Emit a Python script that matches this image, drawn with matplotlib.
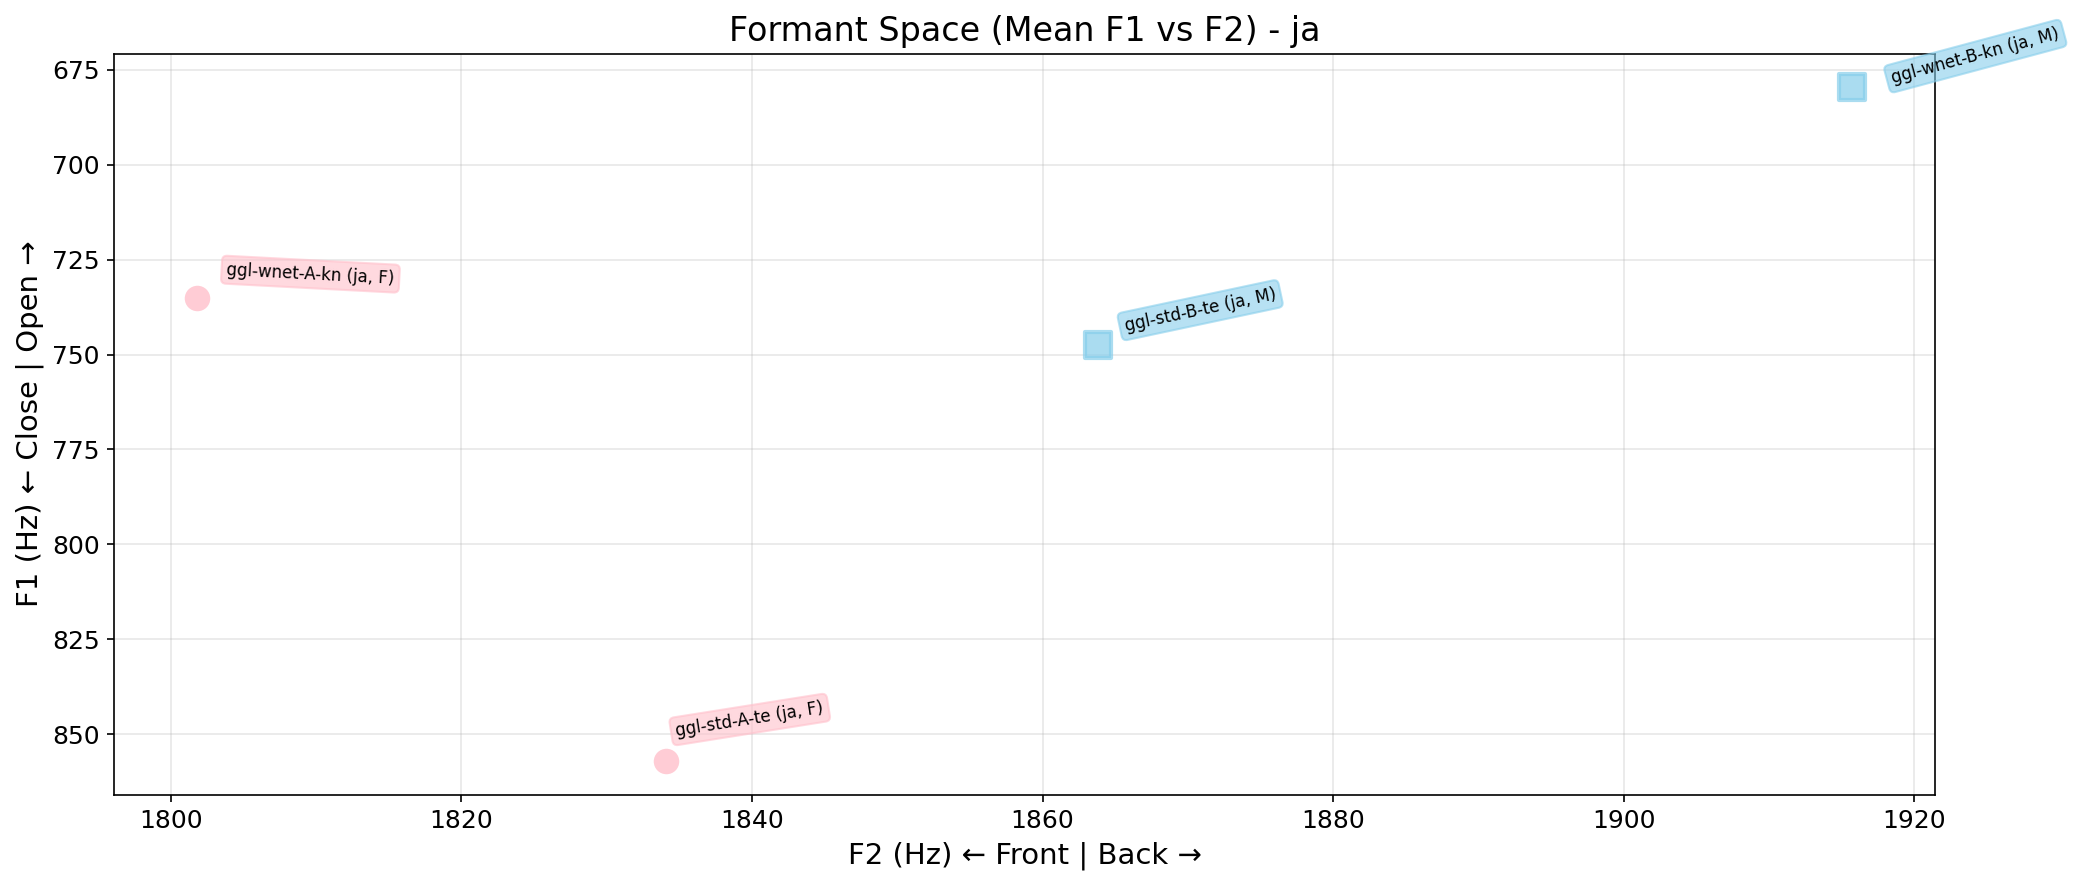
import matplotlib
matplotlib.use("Agg")
import matplotlib.pyplot as plt

labels = ["ggl-wnet-A-kn", "ggl-std-A-te", "ggl-std-B-te", "ggl-wnet-B-kn"]
langs = ["ja", "ja", "ja", "ja"]
genders = ["F", "F", "M", "M"]
f2_vals = [1801.8, 1834.1, 1863.8, 1915.7]
f1_vals = [735.1, 857.0, 747.6, 679.6]
rotations = [-3, 9, 12, 15]
offsets = [(14, 5), (4, 10), (12, 5), (18, 0)]

colors = {"F": "pink", "M": "skyblue"}
markers = {"F": "o", "M": "s"}

fig, ax = plt.subplots(figsize=(14, 6), dpi=150)

for lab, lg, g, x, y, r, off in zip(labels, langs, genders, f2_vals, f1_vals, rotations, offsets):
    c = colors[g]
    lw = 0 if g == "F" else 2
    ax.scatter([x], [y], s=150, c=c, marker=markers[g], alpha=0.7 if g == "M" else 0.8,
               edgecolors=c, linewidths=lw, zorder=3)
    ax.annotate(f"{lab} ({lg}, {g})", (x, y), xytext=off, textcoords="offset points",
                fontsize=8, rotation=r, ha="left", va="bottom",
                bbox=dict(boxstyle="round,pad=0.3", facecolor=c, edgecolor=c, alpha=0.6))

ax.invert_yaxis()
ax.grid(True, alpha=0.3)
ax.set_xlabel("F2 (Hz) ← Front | Back →", fontsize=14)
ax.set_ylabel("F1 (Hz) ← Close | Open →", fontsize=14)
ax.set_title("Formant Space (Mean F1 vs F2) - ja", fontsize=16)
ax.tick_params(labelsize=12)

fig.tight_layout()
fig.savefig("out.png", dpi=150, bbox_inches="tight")
